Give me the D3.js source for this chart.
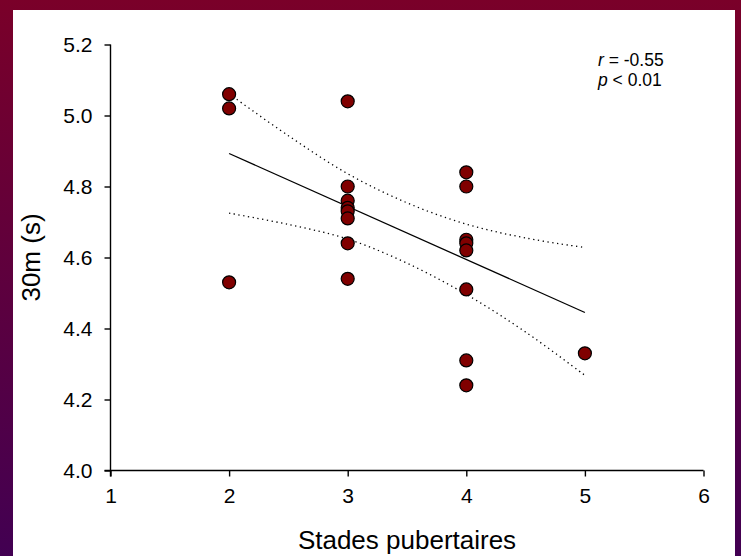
<!DOCTYPE html>
<html>
<head>
<meta charset="utf-8">
<script src="https://cdn.jsdelivr.net/npm/d3@7"></script>
<style>
  html, body { margin: 0; padding: 0; }
  body { width: 741px; height: 556px; overflow: hidden; }
  text { font-family: "Liberation Sans", Arial, sans-serif; fill: #000; }
</style>
</head>
<body>
<svg id="chart" width="741" height="556"></svg>
<script>
// stades pubertaires (x) vs temps 30m (y)
var stades = [2, 2, 2, 3, 3, 3, 3, 3, 3, 3, 3, 4, 4, 4, 4, 4, 4, 4, 4, 5]
var temps = [5.06, 5.02, 4.53, 5.04, 4.80, 4.76, 4.74, 4.73, 4.71, 4.64, 4.54,
  4.84, 4.80, 4.65, 4.64, 4.62, 4.51, 4.31, 4.24, 4.33]

// droite de regression et bandes de confiance
var fitX = [2, 5]
var fitY = [4.893, 4.445]
var bandX = [2, 2.5, 3, 3.5, 4, 4.5, 5]
var bandUpper = [5.061, 4.943, 4.836, 4.754, 4.694, 4.655, 4.628]
var bandLower = [4.725, 4.693, 4.652, 4.584, 4.496, 4.39, 4.268]

var xTicks = [1, 2, 3, 4, 5, 6]
var yTicks = [4.0, 4.2, 4.4, 4.6, 4.8, 5.0, 5.2]

var svg = d3.select('#chart')

var defs = svg.append('defs')
var grad = defs.append('linearGradient')
  .attr('id', 'bg')
  .attr('x1', 0).attr('y1', 0).attr('x2', 0).attr('y2', 1)
grad.append('stop').attr('offset', '0%').attr('stop-color', '#7a0029')
grad.append('stop').attr('offset', '100%').attr('stop-color', '#420052')

svg.append('rect').attr('width', 741).attr('height', 556).attr('fill', 'url(#bg)')
svg.append('rect').attr('x', 13).attr('y', 10).attr('width', 722).attr('height', 546).attr('fill', '#fff')

var x = d3.scaleLinear().domain([1, 6]).range([110.5, 703.5])
var y = d3.scaleLinear().domain([4.0, 5.2]).range([470.5, 44.5])

// axes
var xAxis = svg.append('g')
  .attr('transform', 'translate(0,' + y(4.0) + ')')
  .call(d3.axisBottom(x).tickValues(xTicks).tickSize(6).tickSizeOuter(0).tickPadding(12).tickFormat(d3.format('d')))
var yAxis = svg.append('g')
  .attr('transform', 'translate(' + x(1) + ',0)')
  .call(d3.axisLeft(y).tickValues(yTicks).tickSize(6).tickSizeOuter(0).tickPadding(12).tickFormat(d3.format('.1f')))

xAxis.select('.domain').attr('d', 'M' + (x(1) - 6) + ',0H' + x(6))
yAxis.select('.domain').attr('d', 'M0,' + y(5.2) + 'V' + (y(4.0) + 6))

svg.selectAll('.domain, .tick line').attr('stroke', '#000').attr('stroke-width', 1.4)
svg.selectAll('.tick text').attr('font-size', 21).attr('font-family', '"Liberation Sans", Arial, sans-serif')
xAxis.selectAll('.tick text').attr('dy', '0.71em')

// titres
svg.append('text')
  .attr('x', (x(1) + x(6)) / 2)
  .attr('y', 549)
  .attr('text-anchor', 'middle')
  .attr('font-size', 26)
  .text('Stades pubertaires')

svg.append('text')
  .attr('transform', 'translate(40,' + ((y(4.0) + y(5.2)) / 2) + ') rotate(-90)')
  .attr('text-anchor', 'middle')
  .attr('font-size', 26)
  .text('30m (s)')

// bandes de confiance
var band = d3.line().x(function (d) { return x(d[0]) }).y(function (d) { return y(d[1]) }).curve(d3.curveCatmullRom)
svg.append('path')
  .datum(d3.zip(bandX, bandUpper))
  .attr('d', band)
  .attr('fill', 'none').attr('stroke', '#000').attr('stroke-width', 1.3).attr('stroke-dasharray', '1.3,3.5')
svg.append('path')
  .datum(d3.zip(bandX, bandLower))
  .attr('d', band)
  .attr('fill', 'none').attr('stroke', '#000').attr('stroke-width', 1.3).attr('stroke-dasharray', '1.3,3.5')

// droite de regression
svg.append('path')
  .datum(d3.zip(fitX, fitY))
  .attr('d', d3.line().x(function (d) { return x(d[0]) }).y(function (d) { return y(d[1]) }))
  .attr('fill', 'none').attr('stroke', '#000').attr('stroke-width', 1.3)

// points
svg.append('g').selectAll('circle')
  .data(d3.zip(stades, temps))
  .enter().append('circle')
  .attr('cx', function (d) { return x(d[0]) })
  .attr('cy', function (d) { return y(d[1]) })
  .attr('r', 6.5)
  .attr('fill', '#800000')
  .attr('stroke', '#000')
  .attr('stroke-width', 1.2)

// statistiques
var stats = svg.append('text').attr('font-size', 17.5)
stats.append('tspan').attr('x', 598).attr('y', 66).attr('font-style', 'italic').text('r')
stats.append('tspan').text(' = -0.55')
stats.append('tspan').attr('x', 598).attr('y', 86).attr('font-style', 'italic').text('p')
stats.append('tspan').text(' < 0.01')
</script>
</body>
</html>
